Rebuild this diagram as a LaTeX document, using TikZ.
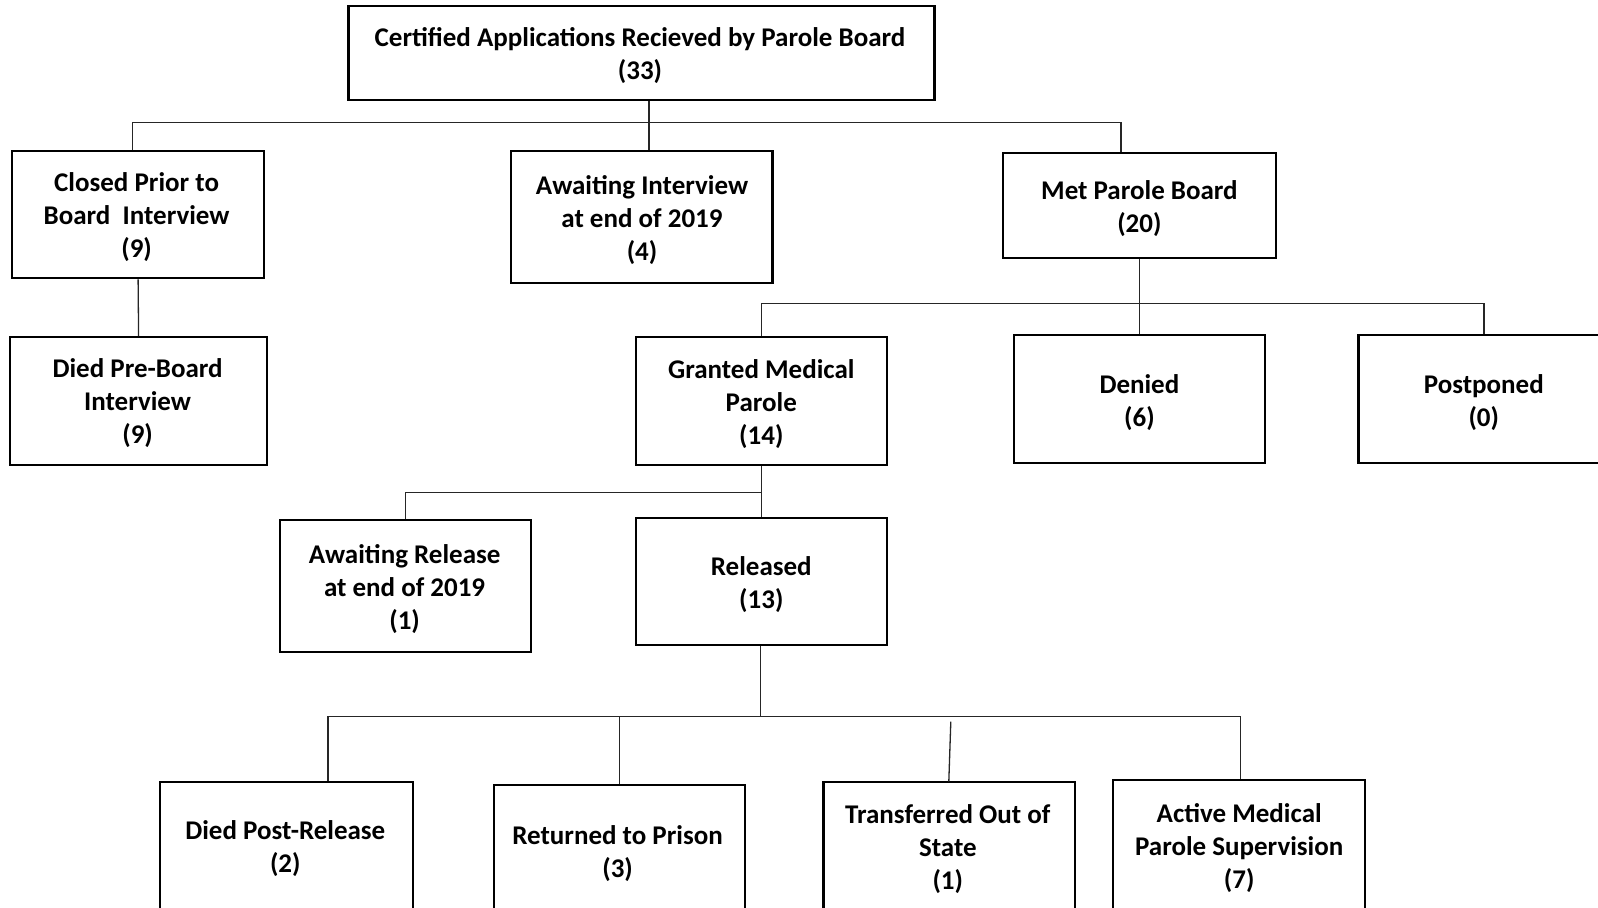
\documentclass[tikz,border=0pt]{standalone}
\usepackage{fontspec}
\setmainfont{Carlito}
\usetikzlibrary{calc}
\begin{document}
\begin{tikzpicture}[x=0.5pt,y=-0.5pt,
  box/.style 2 args={draw=black,line width=1.1pt,minimum width=#1*0.5pt,minimum height=#2*0.5pt,inner sep=0pt},
  txt/.style={font=\bfseries\fontsize{13.5}{16.5}\selectfont,align=center,inner sep=0pt,yshift=-1.2pt},
  conn/.style={draw=black!85,line width=0.65pt}]
\useasboundingbox (0,0) rectangle (1598,907);
\clip (0,0) rectangle (1598,907);
% boxes
\node[box={586}{94}] (top) at (641.5,53) {};
\node[box={251.8}{127.4}] (closed) at (138.1,214.5) {};
\node[box={261.9}{132.5}] (aI) at (641.55,217.05) {};
\node[box={273.1}{104.9}] (met) at (1139.35,205.35) {};
\node[box={256.8}{127.4}] (diedPre) at (138.6,401) {};
\node[box={250.7}{127.4}] (granted) at (761.25,401) {};
\node[box={250.7}{127.4}] (denied) at (1139.35,399) {};
\node[box={250.7}{127.4}] (postponed) at (1483.85,399) {};
\node[box={250.7}{132.5}] (awaitR) at (405.65,585.95) {};
\node[box={250.7}{127.4}] (released) at (761.25,581.4) {};
\node[box={252.7}{150}] (diedPost) at (286.35,856.6) {};
\node[box={250.7}{150}] (returned) at (619.65,859.7) {};
\node[box={251.7}{150}] (transferred) at (949.25,856.6) {};
\node[box={251.7}{150}] (active) at (1238.75,854.6) {};
% texts
\node[txt] (topT) at (640,53) {Certified Applications Recieved by Parole Board\\(33)};
\node[txt] (closedT) at (136.6,215) {Closed Prior to\\Board\ \ Interview\\(9)};
\node[txt] (aIT) at (642,218.1) {Awaiting Interview\\at end of 2019\\(4)};
\node[txt] (metT) at (1139.4,205.9) {Met Parole Board\\(20)};
\node[txt] (diedPreT) at (137.6,401) {Died Pre-Board\\Interview\\(9)};
\node[txt] (grantedT) at (761.3,401.5) {Granted Medical\\Parole\\(14)};
\node[txt] (deniedT) at (1139.4,400) {Denied\\(6)};
\node[txt] (postponedT) at (1483.8,400) {Postponed\\(0)};
\node[txt] (awaitRT) at (404.6,587) {Awaiting Release\\at end of 2019\\(1)};
\node[txt] (releasedT) at (761.3,582.4) {Released\\(13)};
\node[txt] (diedPostT) at (285.3,846.4) {Died Post-Release\\(2)};
\node[txt] (returnedT) at (617.6,851.5) {Returned to Prison\\(3)};
\node[txt] (transferredT) at (947.8,846.9) {Transferred Out of\\State\\(1)};
\node[txt] (activeT) at (1239.2,845.9) {Active Medical\\Parole Supervision\\(7)};
% connectors
\coordinate (j1) at (649,122.3);
\coordinate (jL) at (132.5,122.3);
\coordinate (jR) at (1121,122.3);
\draw[conn] (top.south -| j1) -- (aI.north -| j1);
\draw[conn] (closed.north -| jL) -- (jL) -- (jR) -- (met.north -| jR);
\draw[conn] (closed.south) -- (diedPre.north);
\coordinate (j2) at (761.25,303.7);
\draw[conn] (met.south) -- (denied.north);
\draw[conn] (granted.north) -- (j2) -- (j2 -| postponed.north) -- (postponed.north);
\coordinate (j3) at (761.25,492.2);
\draw[conn] (granted.south) -- (released.north);
\draw[conn] (j3) -- (j3 -| awaitR.north) -- (awaitR.north);
\coordinate (j4) at (760.3,716.4);
\coordinate (j4L) at (328.1,716.4);
\coordinate (j4R) at (1240.2,716.4);
\coordinate (tT) at (950.8,721.5);
\coordinate (tB) at (948.8,781.6);
\draw[conn] (released.south -| j4) -- (j4);
\draw[conn] (diedPost.north -| j4L) -- (j4L) -- (j4R) -- (active.north -| j4R);
\draw[conn] (returned.north) -- (returned.north |- j4L);
\draw[conn] (tT) -- (tB);
\end{tikzpicture}
\end{document}
